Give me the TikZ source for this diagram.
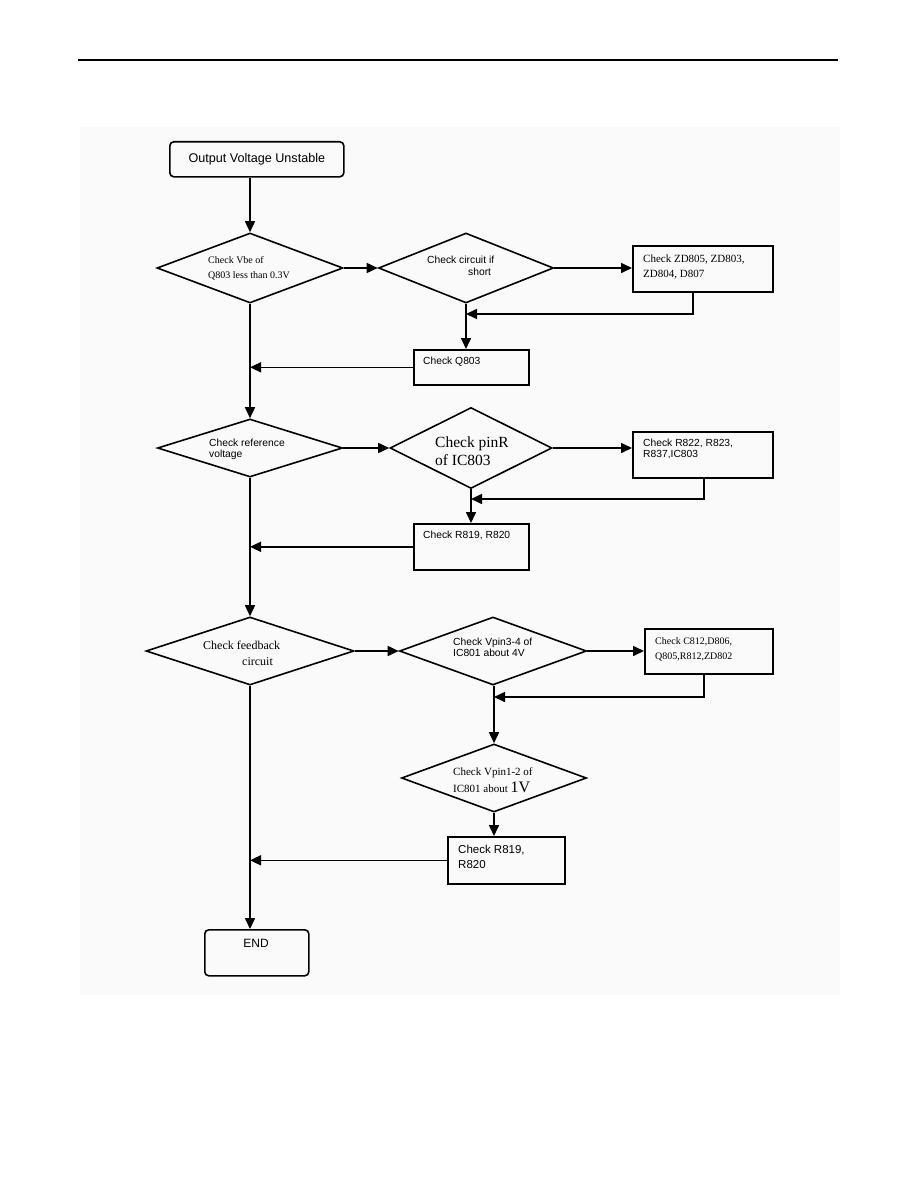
\documentclass[tikz,border=0pt]{standalone}
\usepackage{fontspec}
\setmainfont{Liberation Serif}
\setsansfont{Liberation Sans}
\usetikzlibrary{shapes.geometric,arrows.meta}
\begin{document}
\begin{tikzpicture}[x=1pt,y=-1pt,
  ln/.style={line width=1.6pt},
  arr/.style={ln,-{Triangle[length=11pt,width=10pt]}},
  box/.style={draw,ln,rectangle,inner sep=0pt,anchor=north west},
  rbox/.style={box,rounded corners=4pt},
  dia/.style={draw,ln,diamond,inner sep=0pt},
  ss/.style={font=\fontsize{10.3}{12}\selectfont\sffamily,anchor=base west,inner sep=0pt},
  sm/.style={font=\fontsize{11.5}{13}\selectfont\sffamily,anchor=base west,inner sep=0pt},
  rs/.style={font=\fontsize{10}{12}\selectfont,anchor=base west,inner sep=0pt},
  rm/.style={font=\fontsize{11}{13}\selectfont,anchor=base west,inner sep=0pt},
  rl/.style={font=\fontsize{12}{14}\selectfont,anchor=base west,inner sep=0pt},
  rx/.style={font=\fontsize{15.5}{18}\selectfont,anchor=base west,inner sep=0pt}
]
\useasboundingbox (0,0) rectangle (918,1188);
\fill[black!2] (80,127) rectangle (840,995);
\draw[ln] (78,60) -- (838,60);

% nodes
\node[rbox,minimum width=174pt,minimum height=35pt,
      font=\fontsize{12.6}{14}\selectfont\sffamily] (start) at (169,141) {Output Voltage Unstable};
\node[dia,minimum width=186pt,minimum height=70pt] (d1) at (250,268) {};
\node[dia,minimum width=175pt,minimum height=70pt] (d2) at (466,268) {};
\node[box,minimum width=140pt,minimum height=46pt] (b4) at (632,245) {};
\node[box,minimum width=115pt,minimum height=35pt] (b5) at (413,349) {};
\node[dia,minimum width=185pt,minimum height=58pt] (d3) at (250,448) {};
\node[dia,minimum width=162pt,minimum height=81pt] (d4) at (471,448) {};
\node[box,minimum width=140pt,minimum height=46pt] (b8) at (632,431) {};
\node[box,minimum width=115pt,minimum height=46pt] (b9) at (413,523) {};
\node[dia,minimum width=208pt,minimum height=68pt] (d5) at (250,651) {};
\node[dia,minimum width=187pt,minimum height=68pt] (d6) at (493,651) {};
\node[box,minimum width=128pt,minimum height=45pt] (b12) at (644,628) {};
\node[dia,minimum width=185pt,minimum height=68pt] (d7) at (494,778) {};
\node[box,minimum width=117pt,minimum height=47pt] (b14) at (447,836) {};
\node[rbox,minimum width=104pt,minimum height=46pt] (end) at (204,929) {};

% texts
\node[rs] (t1a) at (208,263) {Check Vbe of};
\node[rs] (t1b) at (208,278) {Q803 less than 0.3V};
\node[ss] (t2a) at (427,263) {Check circuit if};
\node[ss] (t2b) at (468,275) {short};
\node[rm] (t4a) at (643,262) {Check ZD805, ZD803,};
\node[rm] (t4b) at (643,277) {ZD804, D807};
\node[ss] (t5) at (423,364) {Check Q803};
\node[ss] (t3a) at (209,446) {Check reference};
\node[ss] (t3b) at (209,457) {voltage};
\node[rx] (t6a) at (435,447) {Check pinR};
\node[rx] (t6b) at (435,465) {of IC803};
\node[ss] (t8a) at (643,446) {Check R822, R823,};
\node[ss] (t8b) at (643,457) {R837,IC803};
\node[ss] (t9) at (423,538) {Check R819, R820};
\node[rl] (t10a) at (203,649) {Check feedback};
\node[rl] (t10b) at (242,665) {circuit};
\node[ss] (t11a) at (453,645) {Check Vpin3-4 of};
\node[ss] (t11b) at (453,656) {IC801 about 4V};
\node[rs] (t12a) at (655,644) {Check C812,D806,};
\node[rs] (t12b) at (655,659) {Q805,R812,ZD802};
\node[rm] (t13a) at (453,775) {Check Vpin1-2 of};
\node[rm] (t13b) at (453,792) {IC801 about {\fontsize{16}{18}\selectfont 1V}};
\node[sm] (t14a) at (458,853) {Check R819,};
\node[sm] (t14b) at (458,868) {R820};
\node[font=\fontsize{12}{14}\selectfont\sffamily,inner sep=0pt] (tend) at (256,943) {END};

% junction coordinates
\coordinate (j1) at (466,314);
\coordinate (j2) at (471,499);
\coordinate (j3) at (494,697);

% connectors
\draw[arr] (start.south -| d1.north) -- (d1.north);
\draw[arr] (d1.east) -- (d2.west);
\draw[arr] (d2.east) -- (d2.east -| b4.west);
\draw[arr] ([xshift=-10pt]b4.south) |- (j1);
\draw[arr] (d2.south) -- (d2.south |- b5.north);
\draw[arr] (b5.west) -- (b5.west -| d1.south);
\draw[arr] (d1.south) -- (d3.north);

\draw[arr] (d3.east) -- (d4.west);
\draw[arr] (d4.east) -- (d4.east -| b8.west);
\draw[arr] ([xshift=1pt]b8.south) |- (j2);
\draw[arr] (d4.south) -- (d4.south |- b9.north);
\draw[arr] (b9.west) -- (b9.west -| d3.south);
\draw[arr] (d3.south) -- (d5.north);

\draw[arr] (d5.east) -- (d6.west);
\draw[arr] (d6.east) -- (d6.east -| b12.west);
\draw[arr] ([xshift=-5pt]b12.south) |- (j3);
\draw[arr] (d6.south -| j3) -- (j3 |- d7.north);
\draw[arr] (d7.south) -- (d7.south |- b14.north);
\draw[arr] (b14.west) -- (b14.west -| d5.south);
\draw[arr] (d5.south) -- (d5.south |- end.north);
\end{tikzpicture}
\end{document}
